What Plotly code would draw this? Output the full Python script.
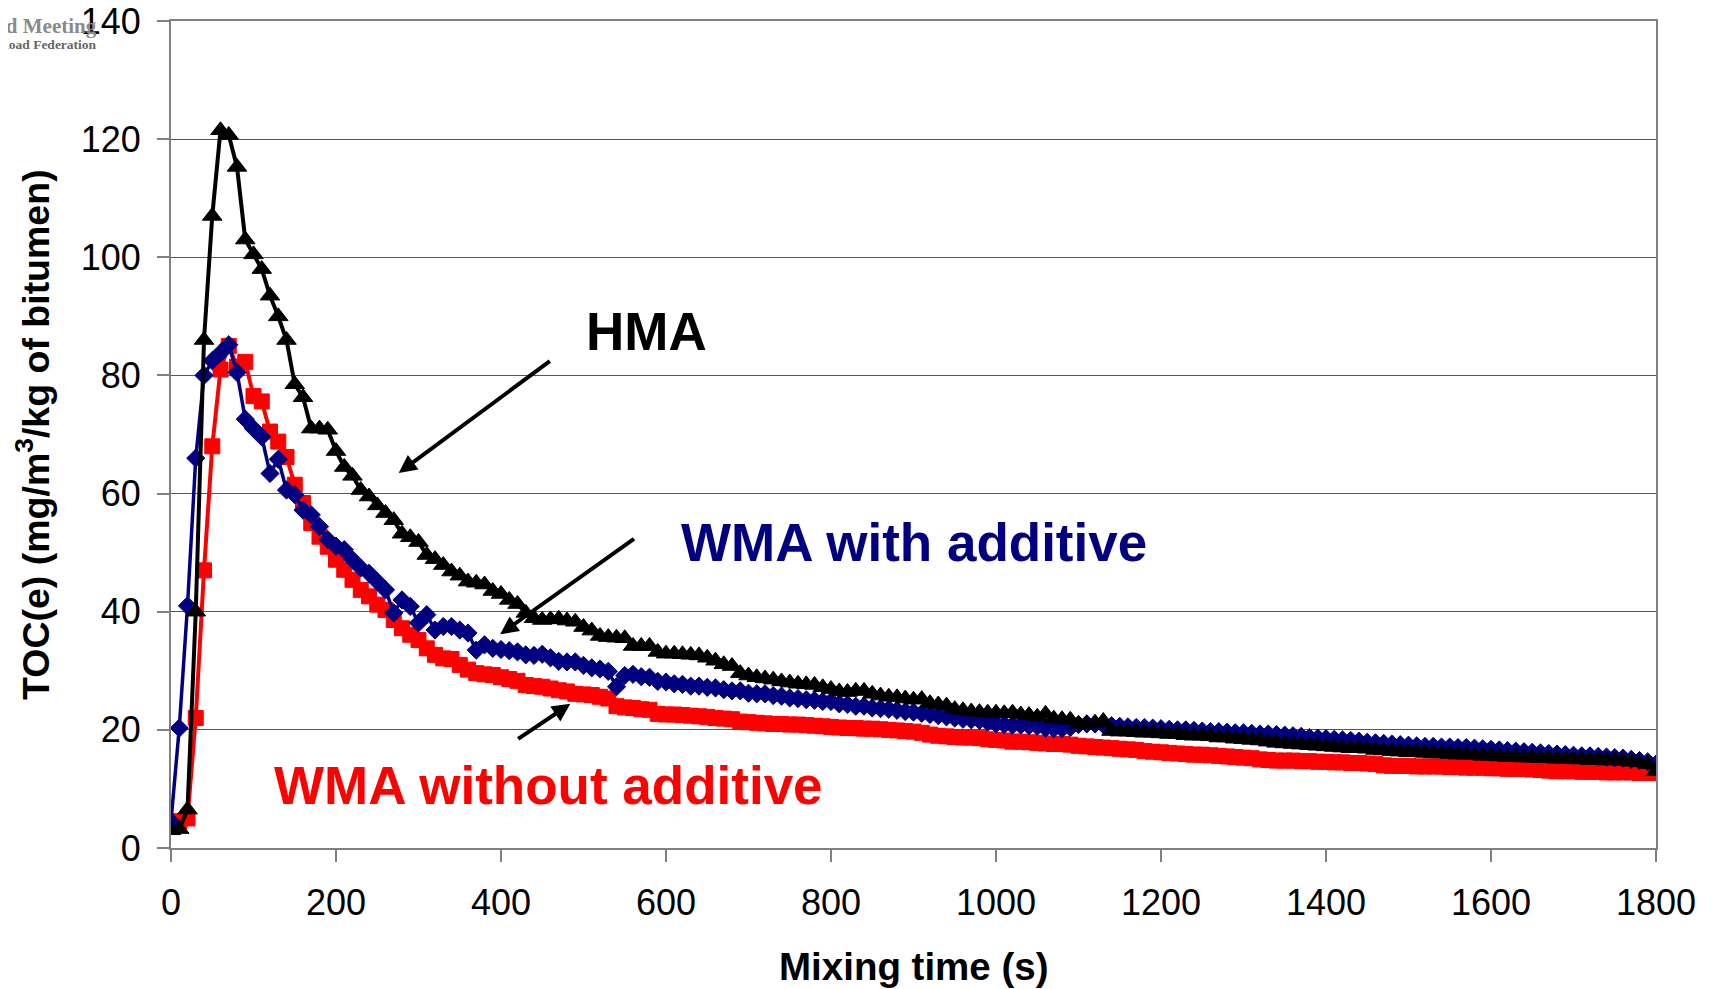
import plotly.graph_objects as go

# Mixing time grid (s), one reading every 10 s
time_s = list(range(0, 1810, 10))

hma = [
    3.0, 3.2, 6.5, 40.0, 86.0, 107.0, 121.5, 120.7, 115.3, 103.0,
    100.5, 98.0, 93.5, 90.0, 86.0, 78.5, 76.3, 71.0, 71.0, 70.8,
    67.2, 64.5, 63.0, 60.6, 59.5, 58.0, 56.7, 55.5, 53.2, 52.6,
    51.8, 49.6, 48.9, 47.9, 46.8, 46.1, 45.1, 44.9, 44.6, 43.5,
    43.0, 42.0, 41.3, 39.8, 38.9, 38.6, 38.7, 38.8, 38.5, 38.3,
    37.4, 36.8, 35.9, 35.7, 35.6, 35.5, 34.2, 34.2, 34.2, 33.2,
    32.9, 32.9, 32.8, 32.7, 32.6, 32.2, 31.7, 31.1, 30.8, 29.6,
    29.2, 28.9, 28.7, 28.5, 28.2, 28.0, 27.8, 27.7, 27.6, 27.2,
    26.9, 26.5, 26.4, 26.6, 26.6, 26.1, 25.8, 25.6, 25.5, 25.3,
    25.1, 25.2, 24.5, 24.3, 24.1, 23.5, 23.3, 23.1, 23.0, 22.9,
    22.9, 22.8, 22.9, 22.6, 22.5, 22.2, 22.7, 21.9, 21.8, 21.7,
    21.0, 21.0, 21.2, 21.5, 19.8, 19.7, 19.7, 19.6, 19.5, 19.5,
    19.4, 19.3, 19.3, 19.1, 19.0, 19.0, 18.9, 18.7, 18.7, 18.5,
    18.4, 18.3, 18.2, 18.0, 17.8, 17.7, 17.6, 17.5, 17.4, 17.3,
    17.2, 17.1, 17.0, 16.9, 16.9, 16.8, 16.6, 16.5, 16.4, 16.3,
    16.2, 16.2, 16.1, 16.0, 16.0, 15.9, 15.8, 15.8, 15.7, 15.6,
    15.6, 15.5, 15.4, 15.4, 15.3, 15.3, 15.2, 15.2, 15.1, 15.1,
    15.0, 15.0, 14.9, 14.9, 14.8, 14.8, 14.7, 14.6, 14.5, 14.2,
    13.0,
]

wma_with = [
    4.5, 20.3, 41.0, 66.0, 80.0, 82.5, 83.8, 85.2, 80.5, 72.6,
    71.0, 69.6, 63.4, 65.8, 60.6, 59.8, 57.2, 56.4, 54.4, 52.2,
    51.1, 50.5, 48.8, 47.4, 46.5, 45.1, 43.7, 39.8, 42.0, 40.9,
    38.1, 39.5, 36.9, 37.5, 37.5, 36.9, 36.4, 33.5, 34.4, 33.8,
    33.6, 33.4, 33.2, 32.7, 32.6, 32.8, 32.2, 31.6, 31.5, 31.5,
    30.9, 30.5, 30.3, 29.9, 27.3, 29.2, 29.4, 29.0, 28.9, 28.2,
    28.1, 27.8, 27.7, 27.4, 27.4, 27.2, 27.1, 26.8, 26.6, 26.6,
    26.2, 26.1, 26.1, 25.8, 25.7, 25.4, 25.3, 25.1, 25.0, 24.8,
    24.8, 24.4, 24.3, 24.0, 24.0, 23.7, 23.6, 23.5, 23.3, 23.1,
    23.0, 22.8, 22.6, 22.4, 22.2, 22.0, 21.8, 21.7, 21.6, 21.3,
    21.0, 20.9, 20.8, 20.8, 20.7, 20.6, 20.3, 20.2, 20.2, 20.4,
    20.9, 21.0, 21.0, 20.9, 20.7, 20.6, 20.5, 20.4, 20.4, 20.3,
    20.2, 20.1, 20.0, 20.0, 19.9, 19.8, 19.7, 19.7, 19.6, 19.5,
    19.5, 19.4, 19.3, 19.3, 19.2, 19.1, 19.0, 18.9, 18.7, 18.6,
    18.5, 18.4, 18.3, 18.2, 18.1, 17.9, 17.8, 17.7, 17.6, 17.5,
    17.4, 17.3, 17.2, 17.2, 17.1, 17.1, 17.0, 17.0, 16.9, 16.8,
    16.7, 16.6, 16.5, 16.4, 16.3, 16.2, 16.1, 16.0, 15.9, 15.8,
    15.7, 15.6, 15.6, 15.5, 15.4, 15.3, 15.2, 15.0, 14.8, 14.6,
    14.2,
]

wma_without = [
    4.5, 4.5, 5.0, 22.0, 47.0, 68.0, 81.0, 85.0, 81.5, 82.3,
    76.5, 75.6, 70.5, 68.8, 66.2, 61.5, 58.4, 55.0, 52.7, 51.0,
    48.8, 47.1, 45.4, 43.7, 42.6, 41.2, 40.3, 38.6, 37.2, 36.1,
    35.2, 33.8, 32.7, 32.1, 32.0, 31.0, 30.2, 29.6, 29.4, 29.3,
    28.9, 28.6, 28.3, 27.6, 27.4, 27.3, 27.0, 26.7, 26.5, 26.1,
    26.0, 25.9, 25.6, 25.3, 24.0, 23.8, 23.7, 23.5, 23.4, 22.7,
    22.6, 22.6, 22.5, 22.4, 22.3, 22.2, 22.0, 21.9, 21.8, 21.4,
    21.3, 21.2, 21.1, 21.0, 21.0, 20.9, 20.9, 20.8, 20.7, 20.6,
    20.5, 20.4, 20.3, 20.3, 20.2, 20.2, 20.1, 20.0, 19.9, 19.8,
    19.7, 19.5, 19.2, 19.0, 18.9, 18.8, 18.7, 18.7, 18.6, 18.4,
    18.3, 18.2, 18.0, 18.0, 17.9, 17.8, 17.7, 17.6, 17.6, 17.5,
    17.3, 17.2, 17.1, 17.0, 16.9, 16.8, 16.7, 16.6, 16.4, 16.3,
    16.2, 16.1, 16.0, 15.9, 15.8, 15.8, 15.7, 15.6, 15.5, 15.4,
    15.3, 15.2, 15.0, 14.9, 14.8, 14.8, 14.8, 14.7, 14.7, 14.6,
    14.6, 14.5, 14.5, 14.4, 14.4, 14.3, 14.2, 14.0, 13.9, 13.9,
    13.9, 13.8, 13.8, 13.8, 13.8, 13.7, 13.7, 13.6, 13.6, 13.6,
    13.5, 13.5, 13.4, 13.4, 13.4, 13.3, 13.2, 13.1, 13.0, 13.0,
    13.0, 12.9, 12.9, 12.9, 12.8, 12.8, 12.8, 12.8, 12.7, 12.7,
    12.7,
]

x_ticks = [0, 200, 400, 600, 800, 1000, 1200, 1400, 1600, 1800]
y_ticks = [0, 20, 40, 60, 80, 100, 120, 140]

FONT = "Liberation Sans, Arial, sans-serif"

fig = go.Figure()
fig.add_trace(go.Scatter(
    x=time_s, y=wma_without, mode="lines+markers", name="WMA without additive",
    line=dict(color="#FF0000", width=4),
    marker=dict(symbol="square", size=15, color="#FF0000",
                line=dict(color="#FF0000", width=1)),
))
fig.add_trace(go.Scatter(
    x=time_s, y=wma_with, mode="lines+markers", name="WMA with additive",
    line=dict(color="#000080", width=3.5),
    marker=dict(symbol="diamond", size=14, color="#000080",
                line=dict(color="#000080", width=1)),
))
fig.add_trace(go.Scatter(
    x=time_s, y=hma, mode="lines+markers", name="HMA",
    line=dict(color="#000000", width=4),
    marker=dict(symbol="triangle-up", size=17, color="#000000",
                line=dict(color="#000000", width=1)),
))

axis_common = dict(
    showline=True, linecolor="#808080", linewidth=2, mirror=True,
    ticks="outside", ticklen=12, tickwidth=1.5, tickcolor="#808080",
    tickfont=dict(family=FONT, size=36, color="black"),
    zeroline=False, automargin=False, ticklabeloverflow="allow",
)

fig.update_xaxes(
    range=[0, 1800], tickvals=x_ticks, showgrid=False,
    ticklabelstandoff=10, **axis_common,
)
fig.update_yaxes(
    range=[0, 140], tickvals=y_ticks, showgrid=True,
    gridcolor="#555555", gridwidth=1, ticklabelstandoff=9, **axis_common,
)

annotations = [
    dict(text="TOC(e) (mg/m<sup>3</sup>/kg of bitumen)", xref="paper", yref="paper",
         x=-0.0933, y=0.5, textangle=-90, showarrow=False,
         font=dict(family=FONT, size=37.5, color="black", weight="bold"),
         xanchor="center", yanchor="middle"),
    dict(text="Mixing time (s)", xref="paper", yref="paper",
         x=0.5, y=-0.1427, showarrow=False,
         font=dict(family=FONT, size=38.5, color="black", weight="bold"),
         xanchor="center", yanchor="middle"),
    dict(text="HMA", xref="x", yref="y", x=576, y=87.5, showarrow=False,
         font=dict(family=FONT, size=53, color="black", weight="bold"),
         xanchor="center", yanchor="middle"),
    dict(text="WMA with additive", xref="x", yref="y", x=901, y=51.7, showarrow=False,
         font=dict(family=FONT, size=53, color="#000080", weight="bold"),
         xanchor="center", yanchor="middle"),
    dict(text="WMA without additive", xref="x", yref="y", x=457, y=10.5, showarrow=False,
         font=dict(family=FONT, size=53, color="#FF0000", weight="bold"),
         xanchor="center", yanchor="middle"),
    # arrows
    dict(text="", xref="x", yref="y", axref="x", ayref="y",
         x=276, y=63.5, ax=461, ay=82.6, showarrow=True,
         arrowhead=2, arrowsize=0.9, arrowwidth=4, arrowcolor="black"),
    dict(text="", xref="x", yref="y", axref="x", ayref="y",
         x=399, y=36.2, ax=563, ay=52.5, showarrow=True,
         arrowhead=2, arrowsize=0.9, arrowwidth=4, arrowcolor="black"),
    dict(text="", xref="x", yref="y", axref="x", ayref="y",
         x=484, y=24.4, ax=419, ay=18.3, showarrow=True,
         arrowhead=2, arrowsize=0.9, arrowwidth=4, arrowcolor="black"),
    # cropped logo text in the corner
    dict(text="ld Meeting", xref="paper", yref="paper", x=-0.0485, y=0.994,
         showarrow=False, xanchor="right", yanchor="middle",
         font=dict(family="Liberation Serif, serif", size=21,
                   color="#8a8a8a", weight="bold")),
    dict(text="Road Federation", xref="paper", yref="paper", x=-0.0485, y=0.971,
         showarrow=False, xanchor="right", yanchor="middle",
         font=dict(family="Liberation Serif, serif", size=13.5,
                   color="#666666", weight="bold")),
]

fig.update_layout(
    width=1712, height=989,
    margin=dict(l=163, r=64, t=13, b=149, autoexpand=False),
    paper_bgcolor="white", plot_bgcolor="white",
    showlegend=False,
    annotations=annotations,
    font=dict(family=FONT),
)

fig.write_html("out.html")
